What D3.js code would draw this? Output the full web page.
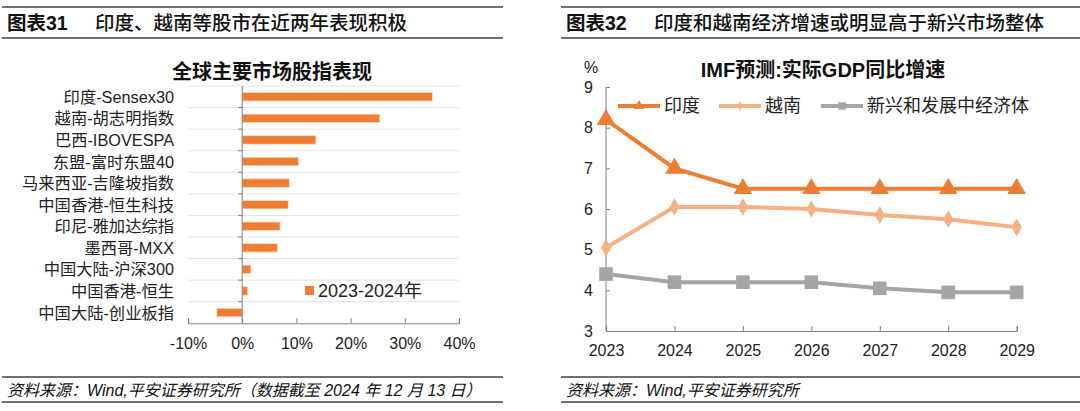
<!DOCTYPE html>
<html>
<head>
<meta charset="utf-8">
<script src="https://cdn.jsdelivr.net/npm/d3@7"></script>
<style>
  body { margin: 0; background: #fff; }
  svg { display: block; font-family: "Liberation Sans", Arial, "Noto Sans CJK SC", sans-serif; }
</style>
</head>
<body>
<div id="chart"></div>
<script>
// left chart data
var markets = ["印度-Sensex30", "越南-胡志明指数", "巴西-IBOVESPA", "东盟-富时东盟40", "马来西亚-吉隆坡指数",
  "中国香港-恒生科技", "印尼-雅加达综指", "墨西哥-MXX", "中国大陆-沪深300", "中国香港-恒生", "中国大陆-创业板指"];
var returns = [0.351, 0.254, 0.136, 0.104, 0.087, 0.085, 0.070, 0.065, 0.016, 0.010, -0.047];
var pctTicks = [-0.1, 0, 0.1, 0.2, 0.3, 0.4];

// right chart data
var years = ["2023", "2024", "2025", "2026", "2027", "2028", "2029"];
var india = [8.2, 7.0, 6.5, 6.5, 6.5, 6.5, 6.5];
var vietnam = [5.05, 6.05, 6.05, 6.0, 5.85, 5.75, 5.55];
var emde = [4.4, 4.2, 4.2, 4.2, 4.05, 3.95, 3.95];
var gdpTicks = [3, 4, 5, 6, 7, 8, 9];

var svg = d3.select("#chart").append("svg")
  .attr("width", 1080).attr("height", 411);

var cjk = '"Liberation Sans", Arial, "Noto Sans CJK SC", sans-serif';

// header / footer frames
function frame(x0, x1, num, title, source) {
  [7, 38, 377, 402].forEach(function(y) {
    svg.append("line").attr("x1", x0).attr("x2", x1).attr("y1", y).attr("y2", y)
      .attr("stroke", "#404040").attr("stroke-width", 1.6);
  });
  svg.append("text").attr("x", x0 + 5).attr("y", 30)
    .attr("font-size", 19.5).attr("font-weight", "bold").attr("fill", "#111").text(num);
  svg.append("text").attr("x", x0 + 93).attr("y", 30)
    .attr("font-size", 19.5).attr("font-weight", 500).attr("fill", "#111").text(title);
  svg.append("text").attr("x", x0 + 5).attr("y", 396)
    .attr("font-size", 16).attr("font-style", "italic").attr("fill", "#111").text(source);
}
frame(2, 503, "图表31", "印度、越南等股市在近两年表现积极", "资料来源：Wind,平安证券研究所（数据截至 2024 年 12 月 13 日）");
frame(561, 1080, "图表32", "印度和越南经济增速或明显高于新兴市场整体", "资料来源：Wind,平安证券研究所");

// ---------- left: bar chart ----------
var x1 = d3.scaleLinear().domain([-0.1, 0.4]).range([188, 459]);
var y1 = d3.scaleBand().domain(markets).range([86, 323.3]);
var step = y1.step();
var barH = 8.5;

svg.append("text").attr("x", 272).attr("y", 79).attr("text-anchor", "middle")
  .attr("font-size", 20).attr("font-weight", "bold").attr("fill", "#111").text("全球主要市场股指表现");

// category separator lines
svg.append("g").selectAll("line").data(markets).enter().append("line")
  .attr("x1", 188).attr("x2", 459)
  .attr("y1", function(d) { return y1(d); }).attr("y2", function(d) { return y1(d); })
  .attr("stroke", "#e4e4e4").attr("stroke-width", 1);

// bars
svg.append("g").selectAll("rect").data(returns).enter().append("rect")
  .attr("x", function(d) { return x1(Math.min(0, d)); })
  .attr("y", function(d, i) { return y1(markets[i]) + (step - barH) / 2; })
  .attr("width", function(d) { return Math.abs(x1(d) - x1(0)); })
  .attr("height", barH)
  .attr("fill", "#ED7D31").attr("stroke", "#fbe0cc").attr("stroke-width", 0.8);

// zero axis with ticks at boundaries
svg.append("line").attr("x1", x1(0)).attr("x2", x1(0)).attr("y1", 86).attr("y2", 323.3)
  .attr("stroke", "#7f7f7f").attr("stroke-width", 1);
svg.append("g").selectAll("line").data(markets.slice(1)).enter().append("line")
  .attr("x1", x1(0) - 4).attr("x2", x1(0))
  .attr("y1", function(d) { return y1(d); }).attr("y2", function(d) { return y1(d); })
  .attr("stroke", "#7f7f7f");

// category labels
svg.append("g").selectAll("text").data(markets).enter().append("text")
  .attr("x", 174)
  .attr("y", function(d) { return y1(d) + step / 2 + 6; })
  .attr("text-anchor", "end").attr("font-size", 16.3).attr("fill", "#222")
  .text(function(d) { return d; });

// bottom axis
var ax1 = svg.append("g").attr("transform", "translate(0,323.3)")
  .call(d3.axisBottom(x1).tickValues(pctTicks).tickSize(-5).tickPadding(14));
ax1.select(".domain").attr("stroke", "#7f7f7f");
ax1.selectAll(".tick line").attr("stroke", "#7f7f7f");
ax1.selectAll("text").attr("font-size", 16).attr("fill", "#222").attr("font-family", cjk)
  .text(function(d) { return Math.round(d * 100) + "%"; });

// legend
svg.append("rect").attr("x", 305).attr("y", 286).attr("width", 9).attr("height", 9).attr("fill", "#ED7D31");
svg.append("text").attr("x", 318).attr("y", 297).attr("font-size", 18).attr("fill", "#222").text("2023-2024年");

// ---------- right: line chart ----------
var x2 = d3.scalePoint().domain(years).range([606, 1016.7]);
var y2 = d3.scaleLinear().domain([3, 9]).range([331, 87]);

svg.append("text").attr("x", 823).attr("y", 77).attr("text-anchor", "middle")
  .attr("font-size", 20).attr("font-weight", "bold").attr("fill", "#111").text("IMF预测:实际GDP同比增速");
svg.append("text").attr("x", 591).attr("y", 73).attr("text-anchor", "middle")
  .attr("font-size", 16).attr("fill", "#222").text("%");

var ay2 = svg.append("g").attr("transform", "translate(606,0)")
  .call(d3.axisRight(y2).tickValues(gdpTicks).tickSize(4).tickFormat(d3.format("d")));
ay2.select(".domain").attr("stroke", "#7f7f7f").attr("d", "M0,87V331");
ay2.selectAll(".tick line").attr("stroke", "#7f7f7f");
ay2.selectAll("text").attr("x", -13).attr("text-anchor", "end").attr("font-size", 16).attr("fill", "#222").attr("font-family", cjk);

var ax2 = svg.append("g").attr("transform", "translate(0,331)")
  .call(d3.axisBottom(x2).tickSize(-5).tickPadding(14));
ax2.select(".domain").attr("stroke", "#7f7f7f");
ax2.selectAll(".tick line").attr("stroke", "#7f7f7f");
ax2.selectAll("text").attr("font-size", 16).attr("fill", "#222").attr("font-family", cjk);

var series = [
  {name: "印度", values: india, color: "#ED7D31", symbol: d3.symbolTriangle, size: 150},
  {name: "越南", values: vietnam, color: "#F4B183", symbol: d3.symbolDiamond, size: 90},
  {name: "新兴和发展中经济体", values: emde, color: "#A5A5A5", symbol: d3.symbolSquare, size: 185}
];
var line = d3.line().x(function(d, i) { return x2(years[i]); }).y(function(d) { return y2(d); });

series.forEach(function(s) {
  svg.append("path").datum(s.values).attr("d", line)
    .attr("fill", "none").attr("stroke", s.color).attr("stroke-width", 4);
  svg.append("g").selectAll("path").data(s.values).enter().append("path")
    .attr("transform", function(d, i) { return "translate(" + x2(years[i]) + "," + y2(d) + ")"; })
    .attr("d", d3.symbol().type(s.symbol).size(s.size))
    .attr("fill", s.color);
});

// legend
var legX = [618, 719, 821];
series.forEach(function(s, i) {
  svg.append("line").attr("x1", legX[i]).attr("x2", legX[i] + 42).attr("y1", 106).attr("y2", 106)
    .attr("stroke", s.color).attr("stroke-width", 4);
  svg.append("path").attr("transform", "translate(" + (legX[i] + 21) + ",106)")
    .attr("d", d3.symbol().type(s.symbol).size(s.size * 0.3)).attr("fill", s.color);
  svg.append("text").attr("x", legX[i] + 46).attr("y", 112).attr("font-size", 18).attr("fill", "#222").text(s.name);
});
</script>
</body>
</html>
